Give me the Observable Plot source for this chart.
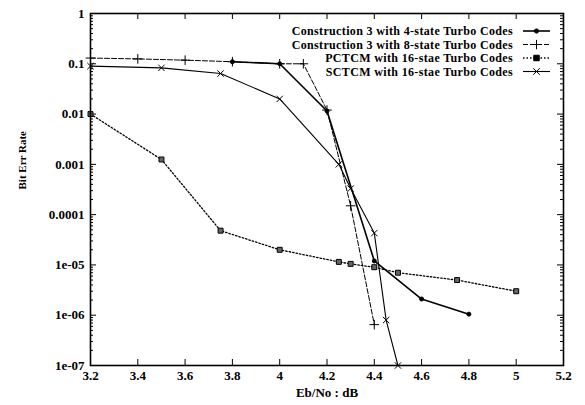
<!DOCTYPE html>
<html>
<head>
<meta charset="utf-8">
<script src="https://cdn.jsdelivr.net/npm/d3@7"></script>
<script src="https://cdn.jsdelivr.net/npm/@observablehq/plot@0.6"></script>
<style>
  html, body { margin: 0; padding: 0; background: white; }
</style>
</head>
<body>
<div id="chart"></div>
<script>
// ---- Data ----
const seriesNames = [
  "Construction 3 with 4-state Turbo Codes",
  "Construction 3 with 8-state Turbo Codes",
  "PCTCM with 16-stae Turbo Codes",
  "SCTCM with 16-stae Turbo Codes"
];

const c4x = [3.8, 4.0, 4.2, 4.4, 4.6, 4.8];
const c4y = [0.11, 0.1, 0.0115, 1.2e-5, 2.1e-6, 1.05e-6];

const c8x = [3.2, 3.4, 3.6, 3.8, 4.0, 4.1, 4.2, 4.3, 4.4];
const c8y = [0.13, 0.125, 0.118, 0.11, 0.1, 0.1, 0.012, 1.5e-4, 6.5e-7];

const pcx = [3.2, 3.5, 3.75, 4.0, 4.25, 4.3, 4.4, 4.5, 4.75, 5.0];
const pcy = [0.01, 1.25e-3, 4.8e-5, 2.0e-5, 1.15e-5, 1.05e-5, 9e-6, 7e-6, 5e-6, 3e-6];

const scx = [3.2, 3.5, 3.75, 4.0, 4.25, 4.3, 4.4, 4.45, 4.5];
const scy = [0.09, 0.083, 0.064, 0.02, 1.0e-3, 3.3e-4, 4.3e-5, 8e-7, 1e-7];

const xTicks = [3.2, 3.4, 3.6, 3.8, 4.0, 4.2, 4.4, 4.6, 4.8, 5.0, 5.2];
const xTickLabels = ["3.2", "3.4", "3.6", "3.8", "4", "4.2", "4.4", "4.6", "4.8", "5", "5.2"];
const yTicks = [1, 0.1, 0.01, 0.001, 0.0001, 1e-5, 1e-6, 1e-7];
const yTickLabels = ["1", "0.1", "0.01", "0.001", "0.0001", "1e-05", "1e-06", "1e-07"];

const xLabel = "Eb/No : dB";
const yLabel = "Bit Err Rate";

// ---- Build tables ----
const toRows = (xs, ys) => xs.map((x, i) => ({x, y: ys[i]}));
const d4 = toRows(c4x, c4y);
const d8 = toRows(c8x, c8y);
const dpc = toRows(pcx, pcy);
const dsc = toRows(scx, scy);

const yMinor = [];
for (let e = -7; e < 0; e++) for (let m = 2; m <= 9; m++) yMinor.push(m * Math.pow(10, e));

const W = 585, H = 405;
const mL = 90, mR = 22, mT = 13, mB = 40;
const pw = W - mL - mR, ph = H - mT - mB;
const font = "Liberation Serif, Times New Roman, serif";

const styles = [
  {stroke: "black", strokeWidth: 1.6, dash: null, symbol: "circle", r: 2, fill: "black"},
  {stroke: "black", strokeWidth: 1, dash: "5,2", symbol: "plus", r: 3.2, fill: "none"},
  {stroke: "black", strokeWidth: 1.3, dash: "1.5,2", symbol: "square", r: 2.8, fill: "#666"},
  {stroke: "black", strokeWidth: 1.1, dash: null, symbol: "times", r: 3, fill: "none"}
];

function legendMark(index, scales, values, dims) {
  const g = d3.create("svg:g")
    .attr("font-family", font)
    .attr("font-size", 12)
    .attr("font-weight", "bold")
    .attr("letter-spacing", "0.35px");
  const right = dims.width - dims.marginRight;
  const textX = right - 50;
  const x1 = right - 40, x2 = right - 13, xm = (x1 + x2) / 2;
  seriesNames.forEach((name, i) => {
    const y = dims.marginTop + 18 + i * 13.5;
    g.append("text").attr("x", textX).attr("y", y).attr("dy", "0.35em")
      .attr("text-anchor", "end").attr("fill", "black").text(name);
    const s = styles[i];
    g.append("line").attr("x1", x1).attr("x2", x2).attr("y1", y).attr("y2", y)
      .attr("stroke", "black").attr("stroke-width", s.strokeWidth)
      .attr("stroke-dasharray", s.dash);
    const sym = d3.symbol().type({
      circle: d3.symbolCircle, plus: d3.symbolPlus, square: d3.symbolSquare, times: d3.symbolTimes
    }[s.symbol]).size(s.symbol === "circle" ? 14 : 30);
    g.append("path").attr("transform", `translate(${xm},${y})`).attr("d", sym())
      .attr("fill", s.symbol === "circle" || s.symbol === "square" ? "black" : "none")
      .attr("stroke", "black").attr("stroke-width", 1);
  });
  return g.node();
}

const seriesData = [d4, d8, dpc, dsc];
const seriesMarks = seriesData.flatMap((d, i) => {
  const s = styles[i];
  return [
    Plot.line(d, {x: "x", y: "y", stroke: s.stroke, strokeWidth: s.strokeWidth, strokeDasharray: s.dash || undefined}),
    Plot.dot(d, {x: "x", y: "y", symbol: s.symbol, r: s.r, fill: s.fill, stroke: "black", strokeWidth: 1})
  ];
});

const chart = Plot.plot({
  width: W, height: H,
  marginLeft: mL, marginRight: mR, marginTop: mT, marginBottom: mB,
  style: {fontFamily: font, fontSize: "13px", fontWeight: "bold", background: "white", color: "black"},
  x: {domain: [3.2, 5.2], axis: null},
  y: {type: "log", domain: [1e-7, 1], axis: null},
  marks: [
    // ticks (inward, mirrored)
    Plot.tickX(xTicks, {x: d => d, insetTop: ph - 6, stroke: "black", strokeWidth: 1}),
    Plot.tickX(xTicks, {x: d => d, insetBottom: ph - 6, stroke: "black", strokeWidth: 1}),
    Plot.tickY(yTicks, {y: d => d, insetRight: pw - 6, stroke: "black", strokeWidth: 1}),
    Plot.tickY(yTicks, {y: d => d, insetLeft: pw - 6, stroke: "black", strokeWidth: 1}),
    Plot.tickY(yMinor, {y: d => d, insetRight: pw - 3, stroke: "black", strokeWidth: 1}),
    Plot.tickY(yMinor, {y: d => d, insetLeft: pw - 3, stroke: "black", strokeWidth: 1}),
    // tick labels
    Plot.text(xTicks, {x: d => d, frameAnchor: "bottom", dy: 14, text: (d, i) => xTickLabels[i], fill: "black"}),
    Plot.text(yTicks, {y: d => d, frameAnchor: "left", dx: -6, textAnchor: "end", text: (d, i) => yTickLabels[i], fill: "black"}),
    // axis titles
    Plot.text([xLabel], {frameAnchor: "bottom", dy: 31, text: d => d, fill: "black"}),
    Plot.text([yLabel], {frameAnchor: "left", dx: -68, rotate: -90, text: d => d, fill: "black", fontSize: 11}),
    ...seriesMarks,
    Plot.frame({stroke: "black", strokeWidth: 1.6}),
    legendMark
  ]
});

document.getElementById("chart").append(chart);
</script>
</body>
</html>
